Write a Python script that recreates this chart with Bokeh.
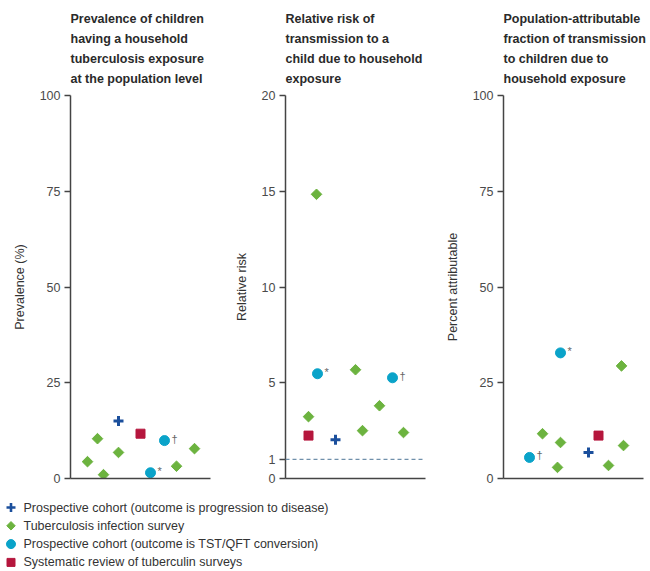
import numpy as np
from bokeh.plotting import figure
from bokeh.layouts import row, column
from bokeh.models import FixedTicker, Span, Range1d, ColumnDataSource
from bokeh.core.properties import value
from bokeh.embed import file_html
from bokeh.resources import INLINE

# ---------------- data ----------------
titles = [
    "Prevalence of children\nhaving a household\ntuberculosis exposure\nat the population level",
    "Relative risk of\ntransmission to a\nchild due to household\nexposure",
    "Population-attributable\nfraction of transmission\nto children due to\nhousehold exposure",
]
y_labels = ["Prevalence (%)", "Relative risk", "Percent attributable"]
y_maxes = [100, 20, 100]
y_ticks = [[0, 25, 50, 75, 100], [0, 1, 5, 10, 15, 20], [0, 25, 50, 75, 100]]

series_names = [
    "Prospective cohort (outcome is progression to disease)",
    "Tuberculosis infection survey",
    "Prospective cohort (outcome is TST/QFT conversion)",
    "Systematic review of tuberculin surveys",
]

# Panel 1: prevalence (%)
p1_cohort_dis_x = [4.8]
p1_cohort_dis_y = [15.0]
p1_survey_x = [1.7, 2.7, 3.3, 4.8, 10.6, 12.4]
p1_survey_y = [4.4, 10.4, 1.0, 6.8, 3.2, 7.8]
p1_cohort_conv_x = [8.0, 9.4]
p1_cohort_conv_y = [1.5, 9.9]
p1_cohort_conv_mark = ["*", "\u2020"]
p1_review_x = [7.0]
p1_review_y = [11.7]

# Panel 2: relative risk
p2_cohort_dis_x = [5.0]
p2_cohort_dis_y = [2.03]
p2_survey_x = [3.1, 7.0, 9.4, 2.3, 7.7, 11.8]
p2_survey_y = [14.84, 5.68, 3.8, 3.23, 2.5, 2.4]
p2_cohort_conv_x = [3.2, 10.7]
p2_cohort_conv_y = [5.47, 5.26]
p2_cohort_conv_mark = ["*", "\u2020"]
p2_review_x = [2.3]
p2_review_y = [2.24]
p2_reference_rr = 1

# Panel 3: population-attributable fraction (%)
p3_cohort_dis_x = [8.5]
p3_cohort_dis_y = [6.8]
p3_survey_x = [3.9, 5.7, 5.4, 11.8, 12.0, 10.5]
p3_survey_y = [11.7, 9.4, 2.9, 29.4, 8.6, 3.4]
p3_cohort_conv_x = [5.7, 2.6]
p3_cohort_conv_y = [32.8, 5.5]
p3_cohort_conv_mark = ["*", "\u2020"]
p3_review_x = [9.5]
p3_review_y = [11.2]

panels = [
    dict(dis=(p1_cohort_dis_x, p1_cohort_dis_y), sur=(p1_survey_x, p1_survey_y),
         conv=(p1_cohort_conv_x, p1_cohort_conv_y, p1_cohort_conv_mark), rev=(p1_review_x, p1_review_y)),
    dict(dis=(p2_cohort_dis_x, p2_cohort_dis_y), sur=(p2_survey_x, p2_survey_y),
         conv=(p2_cohort_conv_x, p2_cohort_conv_y, p2_cohort_conv_mark), rev=(p2_review_x, p2_review_y)),
    dict(dis=(p3_cohort_dis_x, p3_cohort_dis_y), sur=(p3_survey_x, p3_survey_y),
         conv=(p3_cohort_conv_x, p3_cohort_conv_y, p3_cohort_conv_mark), rev=(p3_review_x, p3_review_y)),
]

# ---------------- styles ----------------
C_BLUE = "#1b4f9c"
C_GREEN = "#6cb33f"
C_CYAN = "#0aa3c9"
C_RED = "#b5163d"
C_AXIS = "#444444"
C_TEXT = "#333333"
FONT = "Liberation Sans"

# (left border, right border, total width) per panel
borders = [(70, 8, 218), (67, 7, 214), (71, 7, 218)]
TOP, FRAME_H, BOTTOM = 95, 383, 10

figs = []
for i, pan in enumerate(panels):
    bl, br, w = borders[i]
    p = figure(width=w, height=TOP + FRAME_H + BOTTOM,
               min_border_left=bl, min_border_right=br,
               min_border_top=TOP, min_border_bottom=BOTTOM,
               x_range=Range1d(0, 14), y_range=Range1d(0, y_maxes[i]),
               toolbar_location=None, output_backend="svg", title=titles[i])
    p.title.align = "left"
    p.title.offset = 0
    p.title.text_font = FONT
    p.title.text_font_size = "12.5px"
    p.title.text_font_style = "bold"
    p.title.text_color = "#2a2a2a"
    p.title.text_line_height = 1.43
    p.title.standoff = 18

    p.grid.visible = False
    p.outline_line_color = None
    p.background_fill_color = "white"
    p.border_fill_color = "white"

    # y axis
    p.yaxis.ticker = FixedTicker(ticks=y_ticks[i])
    p.yaxis.minor_tick_line_color = None
    p.yaxis.major_tick_out = 6
    p.yaxis.major_tick_in = 0
    p.yaxis.major_tick_line_color = C_AXIS
    p.yaxis.major_tick_line_width = 1.3
    p.yaxis.axis_line_color = C_AXIS
    p.yaxis.axis_line_width = 1.5
    p.yaxis.major_label_standoff = 4
    p.yaxis.major_label_text_font = FONT
    p.yaxis.major_label_text_font_size = "12.5px"
    p.yaxis.major_label_text_color = "#4a4a4a"
    p.yaxis.axis_label = y_labels[i]
    p.yaxis.axis_label_text_font = FONT
    p.yaxis.axis_label_text_font_size = "12.5px"
    p.yaxis.axis_label_text_font_style = "normal"
    p.yaxis.axis_label_text_color = C_TEXT
    p.yaxis.axis_label_standoff = 10

    # x axis: just the line
    p.xaxis.ticker = FixedTicker(ticks=[])
    p.xaxis.minor_tick_line_color = None
    p.xaxis.major_tick_out = 0
    p.xaxis.major_tick_in = 0
    p.xaxis.major_label_standoff = 0
    p.xaxis.axis_line_color = C_AXIS
    p.xaxis.axis_line_width = 1.5

    if i == 1:
        p.add_layout(Span(location=p2_reference_rr, dimension="width", line_color="#7090ab",
                          line_dash="4 3", line_width=1.2))

    sx, sy = pan["sur"]
    p.scatter(sx, sy, marker="square", angle=np.pi / 4, size=7.5,
              fill_color=C_GREEN, line_color=C_GREEN)
    rx, ry = pan["rev"]
    p.scatter(rx, ry, marker="square", size=9, fill_color=C_RED, line_color=C_RED)
    cx, cy, cm = pan["conv"]
    p.scatter(cx, cy, marker="circle", size=10, fill_color=C_CYAN, line_color=C_CYAN)
    src = ColumnDataSource(dict(x=cx, y=cy, t=cm))
    p.text(x="x", y="y", text="t", source=src, x_offset=7, y_offset=-2,
           text_font=value(FONT), text_font_size="11px", text_color="#666666",
           text_baseline="middle", text_align="left")
    dx, dy = pan["dis"]
    p.scatter(dx, dy, marker="cross", size=10, line_color=C_BLUE, line_width=3)
    figs.append(p)

# ---------------- legend (own small figure) ----------------
LW, LH = 650, 83
leg = figure(width=LW, height=LH, x_range=Range1d(0, LW), y_range=Range1d(LH, 0),
             toolbar_location=None, output_backend="svg", min_border=0)
leg.axis.visible = False
leg.grid.visible = False
leg.outline_line_color = None
n = len(series_names)
first, step = 19, 18.3
ly = [first + k * step for k in range(n)]
mx = [10.5] * n
leg.scatter(mx[0:1], ly[0:1], marker="cross", size=9, line_color=C_BLUE, line_width=2.6)
leg.scatter(mx[1:2], ly[1:2], marker="square", angle=np.pi / 4, size=6,
            fill_color=C_GREEN, line_color=C_GREEN)
leg.scatter(mx[2:3], ly[2:3], marker="circle", size=9, fill_color=C_CYAN, line_color=C_CYAN)
leg.scatter(mx[3:4], ly[3:4], marker="square", size=8, fill_color=C_RED, line_color=C_RED)
leg.text(x=[23] * n, y=ly, text=series_names, text_font=value(FONT),
         text_font_size="12.5px", text_color=C_TEXT, text_baseline="middle", text_align="left")

layout = column(row(*figs, spacing=0), leg, spacing=0)
open("out.html", "w").write(file_html(layout, INLINE))
